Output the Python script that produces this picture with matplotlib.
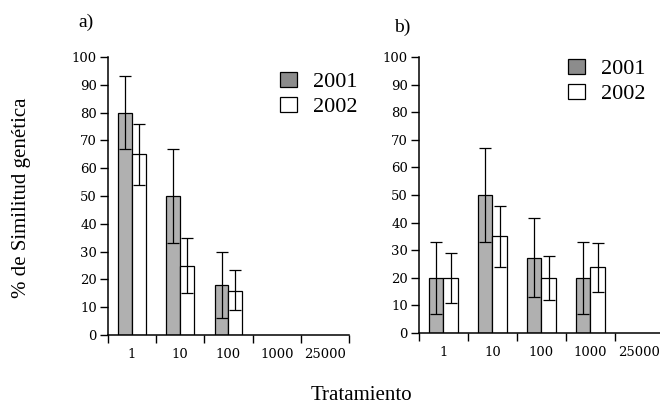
import numpy as np
import matplotlib
matplotlib.use('Agg')
import matplotlib.pyplot as plt
from matplotlib.patches import Patch

plt.rcParams['font.family'] = ['Liberation Serif', 'DejaVu Serif']

categories = ['1', '10', '100', '1000', '25000']

# panel a)
a2001 = [80, 50, 18]
a2001_lo = [67, 33, 6]
a2001_hi = [93, 67, 30]
a2002 = [65, 25, 16]
a2002_lo = [54, 15, 9]
a2002_hi = [76, 35, 23.5]

# panel b)
b2001 = [20, 50, 27, 20]
b2001_lo = [7, 33, 13, 7]
b2001_hi = [33, 67, 41.5, 33]
b2002 = [20, 35, 20, 24]
b2002_lo = [11, 24, 12, 15]
b2002_hi = [29, 46, 28, 32.5]

gray = '#b0b0b0'
w = 0.29

def drawPanel(ax, v1, lo1, hi1, v2, lo2, hi2):
	'''
	Draws the two series of bars with error bars on one panel.
	'''
	x1 = np.arange(len(v1)) + 0.5 - w / 2
	x2 = np.arange(len(v2)) + 0.5 + w / 2
	ax.bar(x1, v1, width=w, color=gray, edgecolor='black', linewidth=0.9, zorder=2)
	ax.bar(x2, v2, width=w, color='white', edgecolor='black', linewidth=0.9, zorder=2)
	err1 = [np.array(v1) - np.array(lo1), np.array(hi1) - np.array(v1)]
	err2 = [np.array(v2) - np.array(lo2), np.array(hi2) - np.array(v2)]
	ax.errorbar(x1, v1, yerr=err1, fmt='none', ecolor='black', elinewidth=0.9, capsize=4, capthick=0.9, zorder=3)
	ax.errorbar(x2, v2, yerr=err2, fmt='none', ecolor='black', elinewidth=0.9, capsize=4, capthick=0.9, zorder=3)
	ax.set_xlim(0, len(categories))
	ax.set_ylim(0, 100)
	ax.set_yticks(np.arange(0, 101, 10))
	ax.set_xticks(np.arange(0, len(categories) + 1))
	ax.set_xticklabels([])
	ax.set_xticks(np.arange(len(categories)) + 0.5, minor=True)
	ax.set_xticklabels(categories, minor=True, family='DejaVu Serif')
	for lbl in ax.get_yticklabels():
		lbl.set_family('DejaVu Serif')
	ax.tick_params(axis='x', which='major', length=6, width=1, direction='out')
	ax.tick_params(axis='x', which='minor', length=0, pad=9, labelsize=9.5)
	ax.tick_params(axis='y', length=6, width=1, direction='out', labelsize=9.5, pad=2)
	for s in ['top', 'right']:
		ax.spines[s].set_visible(False)
	for s in ['left', 'bottom']:
		ax.spines[s].set_linewidth(1.1)

fig = plt.figure(figsize=(6.6, 4.08), dpi=100)
axA = fig.add_axes([0.1636, 0.1789, 0.3652, 0.6814])
axB = fig.add_axes([0.6348, 0.1838, 0.3712, 0.6765])
drawPanel(axA, a2001, a2001_lo, a2001_hi, a2002, a2002_lo, a2002_hi)
drawPanel(axB, b2001, b2001_lo, b2001_hi, b2002, b2002_lo, b2002_hi)

handles = [Patch(facecolor='#8c8c8c', edgecolor='black', linewidth=0.9, label='2001'),
	Patch(facecolor='white', edgecolor='black', linewidth=0.9, label='2002')]
legOpts = dict(loc='upper left', frameon=False, fontsize=16, handlelength=0.75, handleheight=0.65,
	handletextpad=0.75, labelspacing=0.2, borderpad=0, borderaxespad=0)
fig.legend(handles=handles, bbox_to_anchor=(280 / 660, 1 - 72 / 408), **legOpts)
fig.legend(handles=handles, bbox_to_anchor=(568 / 660, 1 - 59 / 408), **legOpts)

fig.text(86 / 660, 1 - 22 / 408, 'a)', fontsize=14, ha='center', va='center')
fig.text(402 / 660, 1 - 27 / 408, 'b)', fontsize=14, ha='center', va='center')
fig.text(22 / 660, 1 - 198 / 408, '% de Similitud genética', fontsize=15, rotation=90, ha='center', va='center')
fig.text(361 / 660, 1 - 395 / 408, 'Tratamiento', fontsize=15, ha='center', va='center')

fig.savefig('out.png', dpi=100)
